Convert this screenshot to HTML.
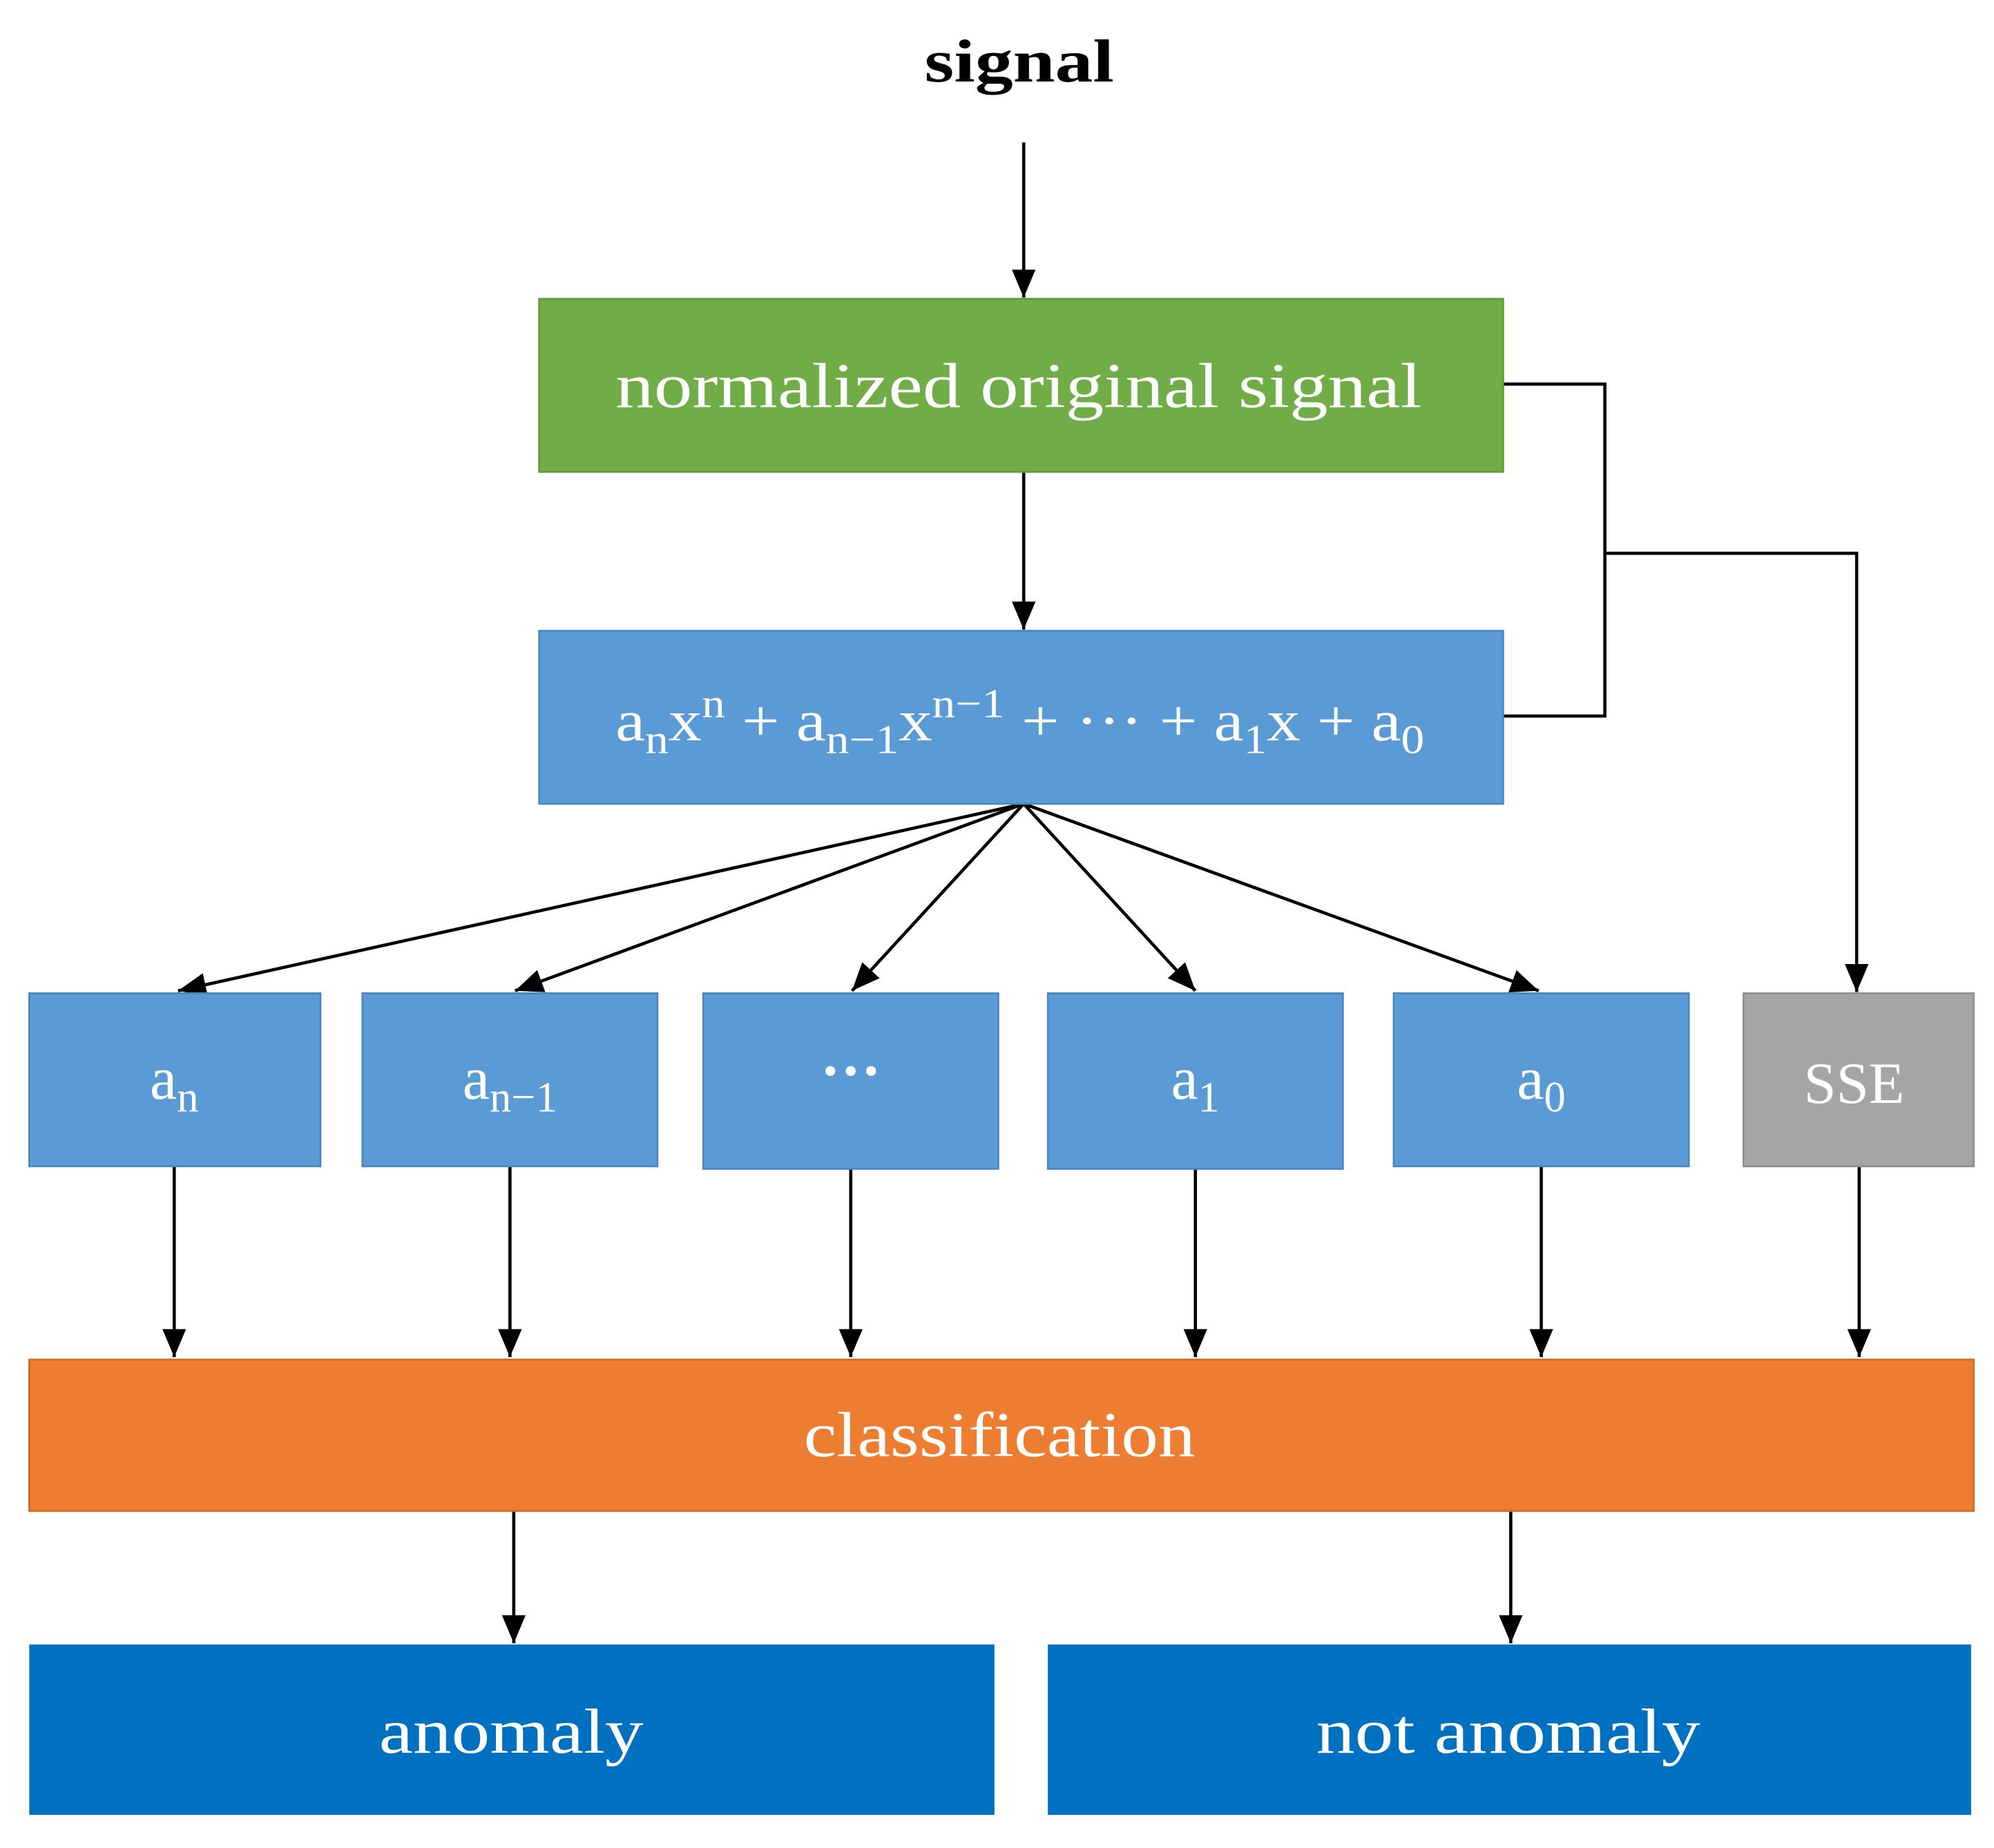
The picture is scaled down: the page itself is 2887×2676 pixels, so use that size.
<!DOCTYPE html>
<html><head><meta charset="utf-8"><style>
html,body{margin:0;padding:0;background:#fff;}
svg{display:block;}
text{font-family:"Liberation Serif",serif;}
</style></head><body>
<svg width="2887" height="2676" viewBox="0 0 1568 1453" preserveAspectRatio="none" xmlns="http://www.w3.org/2000/svg">
<defs>
<marker id="ah" markerWidth="22" markerHeight="26" refX="26" refY="11" orient="auto" markerUnits="userSpaceOnUse" viewBox="0 0 26 22">
<path d="M0,0 L26,11 L0,22 z" fill="#000"/>
</marker>
</defs>
<g stroke="#000" stroke-width="2.5" fill="none">
<line x1="805" y1="112" x2="805" y2="234" marker-end="url(#ah)"/>
<line x1="805" y1="371" x2="805" y2="495" marker-end="url(#ah)"/>
<polyline points="1182,302 1262,302 1262,563 1182,563"/>
<polyline points="1262,435 1460,435 1460,780" marker-end="url(#ah)"/>
<line x1="805" y1="632" x2="140" y2="779" marker-end="url(#ah)"/>
<line x1="805" y1="632" x2="405" y2="779" marker-end="url(#ah)"/>
<line x1="805" y1="632" x2="670" y2="779" marker-end="url(#ah)"/>
<line x1="805" y1="632" x2="940" y2="779" marker-end="url(#ah)"/>
<line x1="805" y1="632" x2="1210" y2="779" marker-end="url(#ah)"/>
<line x1="137" y1="917" x2="137" y2="1067" marker-end="url(#ah)"/>
<line x1="401" y1="917" x2="401" y2="1067" marker-end="url(#ah)"/>
<line x1="669" y1="919" x2="669" y2="1067" marker-end="url(#ah)"/>
<line x1="940" y1="919" x2="940" y2="1067" marker-end="url(#ah)"/>
<line x1="1212" y1="917" x2="1212" y2="1067" marker-end="url(#ah)"/>
<line x1="1462" y1="917" x2="1462" y2="1067" marker-end="url(#ah)"/>
<line x1="404" y1="1188" x2="404" y2="1292" marker-end="url(#ah)"/>
<line x1="1188" y1="1188" x2="1188" y2="1292" marker-end="url(#ah)"/>
</g>
<text x="727" y="64" font-size="48" font-weight="bold" textLength="149" lengthAdjust="spacingAndGlyphs">signal</text>
<rect x="424" y="235" width="758" height="136" fill="#70AD47" stroke="#5E9A3A" stroke-width="1.5"/>
<text x="484" y="320" font-size="50" fill="#fff" textLength="634" lengthAdjust="spacingAndGlyphs">normalized original signal</text>
<rect x="424" y="496" width="758" height="136" fill="#5B9BD5" stroke="#4A86BF" stroke-width="1.5"/>
<text x="484" y="582" font-size="46" fill="#fff" textLength="636" lengthAdjust="spacingAndGlyphs">a<tspan font-size="32" dy="10">n</tspan><tspan dy="-10">x</tspan><tspan font-size="32" dy="-18">n</tspan><tspan dy="18"> + a</tspan><tspan font-size="32" dy="10">n−1</tspan><tspan dy="-10">x</tspan><tspan font-size="32" dy="-18">n−1</tspan><tspan dy="18"> + ··· + a</tspan><tspan font-size="32" dy="10">1</tspan><tspan dy="-10">x + a</tspan><tspan font-size="32" dy="10">0</tspan></text>
<g fill="#5B9BD5" stroke="#4A86BF" stroke-width="1.5">
<rect x="23" y="781" width="229" height="136"/>
<rect x="285" y="781" width="232" height="136"/>
<rect x="553" y="781" width="232" height="138"/>
<rect x="824" y="781" width="232" height="138"/>
<rect x="1096" y="781" width="232" height="136"/>
</g>
<rect x="1371" y="781" width="181" height="136" fill="#A5A5A5" stroke="#8f8f8f" stroke-width="1.5"/>
<g fill="#fff" font-size="48" text-anchor="middle">
<text x="137" y="864">a<tspan font-size="34" dy="10">n</tspan></text>
<text x="401" y="864">a<tspan font-size="34" dy="10">n−1</tspan></text>
<text x="669" y="858" font-weight="bold">···</text>
<text x="940" y="864">a<tspan font-size="34" dy="10">1</tspan></text>
<text x="1212" y="864">a<tspan font-size="34" dy="10">0</tspan></text>
<text x="1458" y="867" font-size="46">SSE</text>
</g>
<rect x="23" y="1069" width="1529" height="119" fill="#ED7D31" stroke="#D06A25" stroke-width="1.5"/>
<text x="632" y="1145" font-size="50" fill="#fff" textLength="308" lengthAdjust="spacingAndGlyphs">classification</text>
<rect x="23" y="1293" width="759" height="134" fill="#0070C0"/>
<rect x="824" y="1293" width="726" height="134" fill="#0070C0"/>
<text x="298" y="1378" font-size="50" fill="#fff" textLength="208" lengthAdjust="spacingAndGlyphs">anomaly</text>
<text x="1035" y="1378" font-size="50" fill="#fff" textLength="302" lengthAdjust="spacingAndGlyphs">not anomaly</text>
</svg>
</body></html>
